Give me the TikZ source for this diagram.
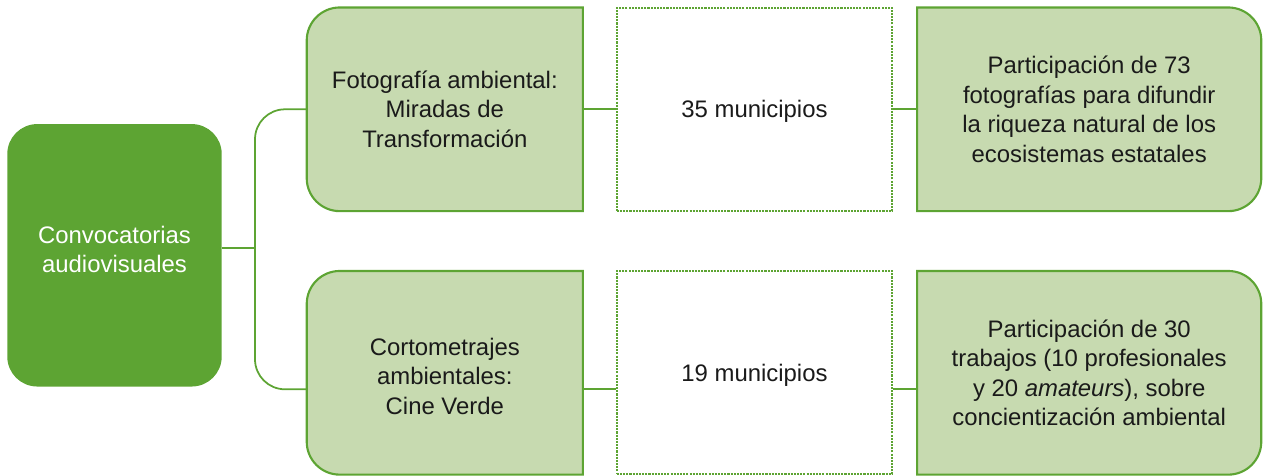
\documentclass[tikz,border=0pt]{standalone}
\usepackage{fontspec}
\setmainfont{Liberation Sans}
\usetikzlibrary{backgrounds}

\definecolor{leafdark}{RGB}{93,164,51}
\definecolor{leaflight}{RGB}{199,218,176}
\definecolor{ink}{RGB}{26,26,26}

\begin{document}
\begin{tikzpicture}[x=0.02cm, y=-0.02cm,
    every node/.style={font=\fontsize{13.6}{16.8}\selectfont, text=ink, align=center, inner sep=0pt},
    cell/.style={minimum width=5.51cm, minimum height=4.06cm},
    box/.style={fill=leaflight, draw=leafdark, line width=1.2pt},
    dotbox/.style={fill=white, draw=leafdark, line width=1.3pt, dash pattern=on 1.2pt off 0.6pt, text depth=0pt},
    link/.style={draw=leafdark, line width=1pt}]
  \useasboundingbox (0,0) rectangle (1263,476);

  % left block
  \node[fill=leafdark, rounded corners=0.6cm, minimum width=4.29cm, minimum height=5.25cm] (root) at (114.5,255.3) {};
  \node[text=white] (rootlabel) at (114.5,249.5) {Convocatorias\\audiovisuales};

  % rows
  \node[cell] (foto) at (444.8,109.3) {Fotografía ambiental:\\Miradas de\\Transformación};
  \node[cell, dotbox] (n35) at (754.5,109.3) {35 municipios};
  \node[cell, minimum width=6.87cm] (res1) at (1089.2,109.3) {Participación de 73\\fotografías para difundir\\la riqueza natural de los\\ecosistemas estatales};

  \node[cell] (corto) at (444.8,372.8) {\rule{0pt}{1em}Cortometrajes\\ambientales:\\Cine Verde};
  \node[cell, dotbox] (n19) at (754.5,372.8) {19 municipios};
  \node[cell, minimum width=6.87cm] (res2) at (1089.2,372.8) {Participación de 30\\trabajos (10 profesionales\\y 20 \textit{amateurs}), sobre\\concientización ambiental};

  \begin{scope}[on background layer]
    \foreach \b in {foto,corto} {
      \draw[box] ([xshift=0.66cm]\b.south west) arc[start angle=90, end angle=180, radius=33]
        -- ([yshift=-0.66cm]\b.north west) arc[start angle=180, end angle=270, radius=33]
        -- (\b.north east) -- (\b.south east) -- cycle;
    }
    \foreach \b in {res1,res2} {
      \draw[box] (\b.north west) -- ([xshift=-0.66cm]\b.north east) arc[start angle=270, end angle=360, radius=33]
        -- ([yshift=0.66cm]\b.south east) arc[start angle=0, end angle=90, radius=33]
        -- (\b.south west) -- cycle;
    }
  \end{scope}

  % connectors
  \coordinate (split) at (255,248);
  \draw[link] (root.east |- split) -- (split);
  \draw[link, rounded corners=0.6cm] (foto.west) -| (split) |- ([yshift=-0.33cm]corto.west);
  \draw[link] (foto) -- (n35);
  \draw[link] (n35) -- (res1);
  \draw[link] ([yshift=-0.33cm]corto.east) -- ([yshift=-0.33cm]n19.west);
  \draw[link] ([yshift=-0.33cm]n19.east) -- ([yshift=-0.33cm]res2.west);
\end{tikzpicture}
\end{document}
